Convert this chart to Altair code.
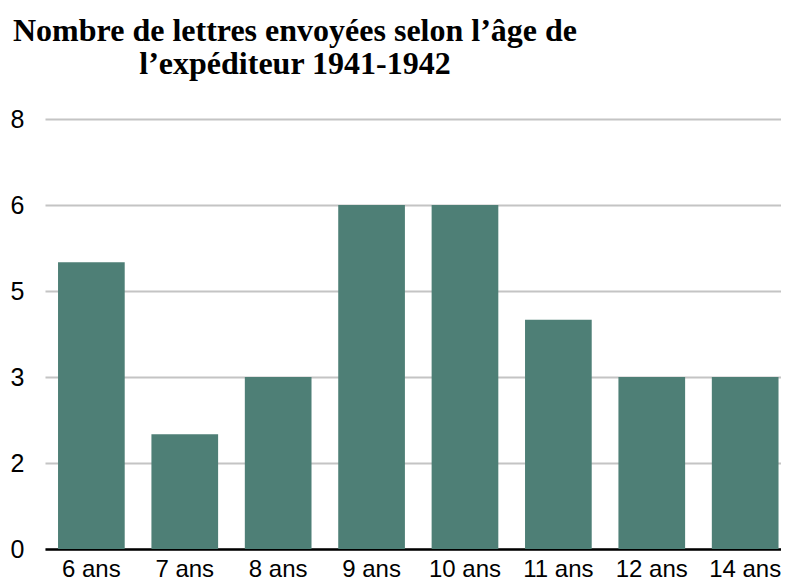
import altair as alt
import pandas as pd

ages = ["6 ans", "7 ans", "8 ans", "9 ans", "10 ans", "11 ans", "12 ans", "14 ans"]
lettres = [5, 2, 3, 6, 6, 4, 3, 3]
y_ticks = [0, 1.5, 3, 4.5, 6, 7.5]

df = pd.DataFrame({"age": ages, "lettres": lettres})

chart = alt.Chart(df).mark_bar(color="#4e7f76").encode(
    x=alt.X("age:N", sort=ages, title=None,
            scale=alt.Scale(paddingInner=0.286, paddingOuter=0.083, align=0.84),
            axis=alt.Axis(labelAngle=0, labelFont="Liberation Sans", labelFontSize=24,
                          labelColor="black", labelPadding=8, ticks=False,
                          domainColor="black", domainWidth=2.5, grid=False)),
    y=alt.Y("lettres:Q", title=None,
            scale=alt.Scale(domain=[0, 7.5], nice=False),
            axis=alt.Axis(values=y_ticks, format=".0f", labelFont="Liberation Sans",
                          labelFontSize=25, labelColor="black", labelPadding=21,
                          ticks=False, domain=False, gridColor="#c4c4c4", gridWidth=2)),
).properties(
    width=736, height=430, autosize="none",
    padding={"left": 37, "top": 111, "right": 0, "bottom": 31},
    title=alt.TitleParams(
        ["Nombre de lettres envoyées selon l’âge de", "l’expéditeur 1941-1942"],
        font="Liberation Serif", fontSize=32, fontWeight="bold", color="black",
        anchor="middle", dx=-118, offset=26, lineHeight=33,
    ),
).configure_view(stroke=None)

chart.save("out.html", embed_options={"renderer": "svg", "actions": False})
